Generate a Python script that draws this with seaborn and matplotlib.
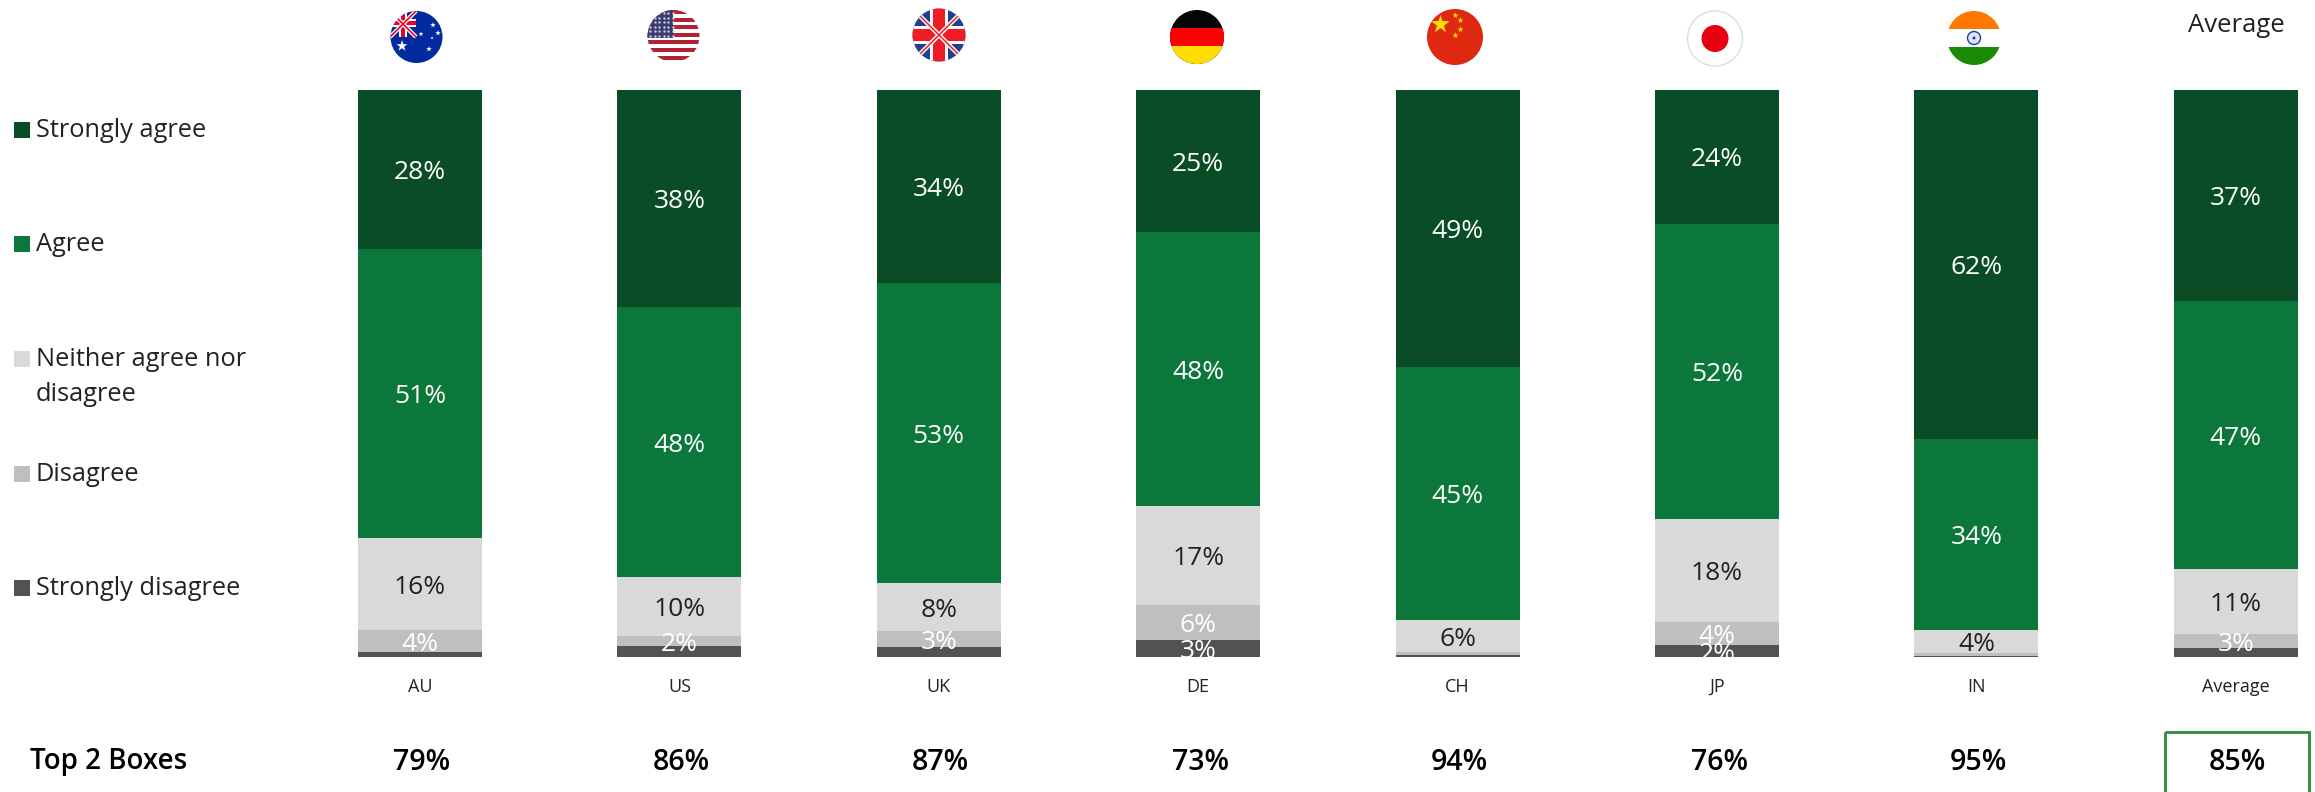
import numpy as np
import pandas as pd
import matplotlib
matplotlib.use("Agg")
import matplotlib.pyplot as plt
from matplotlib.patches import Circle, Rectangle
import seaborn as sns

countries = ["AU", "US", "UK", "DE", "CH", "JP", "IN", "Average"]
strongly_agree = [28, 38.3, 34, 25.1, 48.8, 23.6, 61.6, 37.3]
agree = [51, 47.6, 53, 48.3, 44.6, 52.1, 33.6, 47.2]
neither = [16.2, 10.4, 8.5, 17.4, 5.8, 18.2, 4.1, 11.4]
disagree = [3.9, 1.8, 2.7, 6.2, 0.4, 4, 0.6, 2.6]
strongly_disagree = [0.8, 1.9, 1.8, 3.0, 0.4, 2.1, 0.1, 1.5]
# only DE and JP print a label on the bottom segment
strongly_disagree_labels = ["", "", "", "3%", "", "2%", "", ""]
top2 = ["79%", "86%", "87%", "73%", "94%", "76%", "95%", "85%"]

layer_names = ["Strongly agree", "Agree", "Neither agree nor\ndisagree", "Disagree", "Strongly disagree"]
layer_colors = ["#0A4C26", "#0C773A", "#D9D9D9", "#BFBFBF", "#525252"]
label_colors = ["white", "white", "#222222", "white", "white"]

W, H = 2315, 792
sns.set_theme(style="white")
plt.rcParams["font.family"] = ["Open Sans", "DejaVu Sans"]

df = pd.DataFrame({
    "country": countries,
    "Strongly agree": strongly_agree,
    "Agree": agree,
    "Neither": neither,
    "Disagree": disagree,
    "Strongly disagree": strongly_disagree,
}).set_index("country")
# stacks are 100% even when the rounded numbers are not
df = df.div(df.sum(axis=1), axis=0) * 100

fig = plt.figure(figsize=(W / 100, H / 100), dpi=100)
ax_left, ax_right, ax_top, ax_bottom = 300, 2315, 90, 657
ax = fig.add_axes([ax_left / W, 1 - ax_bottom / H, (ax_right - ax_left) / W, (ax_bottom - ax_top) / H])

# bottom layer first, seaborn stacks through bottom=
base = np.zeros(len(countries))
cols = list(df.columns)
for i in range(len(cols) - 1, -1, -1):
    name = cols[i]
    sns.barplot(x=df.index, y=df[name].values, bottom=base, color=layer_colors[i], saturation=1,
                width=0.478, linewidth=0, ax=ax)
    base = base + df[name].values

# labels on top of every bar, clipped at the axes like the original
for container, i in zip(ax.containers, range(len(cols) - 1, -1, -1)):
    if cols[i] == "Strongly disagree":
        labels = strongly_disagree_labels
    else:
        labels = [f"{v:.0f}%" if v >= 1.5 else "" for v in df[cols[i]].values]
    texts = ax.bar_label(container, labels=labels, label_type="center", color=label_colors[i],
                         fontsize=19, clip_on=True)
    for t in texts:
        t.xyann = (0, -2.2)

spacing = 259.4
first_x = 420
ax.set_xlim((ax_left - first_x) / spacing, (ax_right - first_x) / spacing)
ax.set_ylim(0, 100)
ax.set_xlabel("")
ax.set_ylabel("")
ax.set_yticks([])
ax.tick_params(axis="x", length=0, pad=15, labelsize=13, labelcolor="#222222")
sns.despine(ax=ax, left=True, bottom=True)

# overlay in pixel coordinates for legend, bottom row and flags
ov = fig.add_axes([0, 0, 1, 1], zorder=5)
ov.set_xlim(0, W)
ov.set_ylim(H, 0)
ov.axis("off")
ov.patch.set_alpha(0)

legend_y = [130, 244, 359, 474, 588]
for name, color, y in zip(layer_names, layer_colors, legend_y):
    ov.add_patch(Rectangle((14, y - 8), 16, 16, color=color, lw=0))
    ov.text(36, y - 12, name, fontsize=18.3, color="#222222", va="top", ha="left", linespacing=1.55)

ov.text(30, 762, "Top 2 Boxes", fontsize=20, fontweight="semibold", color="black", va="center")
centers = [first_x + spacing * k for k in range(len(countries))]
for cx, t in zip(centers, top2):
    ov.text(cx + 2, 762, t, fontsize=20.5, fontweight="semibold", color="black", va="center", ha="center")
ov.add_patch(Rectangle((2165, 732), 143.5, 70, fill=False, ec="#2E8B3E", lw=2))
ov.text(2236, 25, "Average", fontsize=18.5, color="#222222", ha="center", va="center")


def flag_disc(cx, cy, r, color):
    disc = Circle((cx, cy), r, fc=color, ec="none")
    ov.add_patch(disc)
    return disc


def clipped_rect(disc, x, y, w, h, color):
    p = Rectangle((x, y), w, h, fc=color, ec="none")
    ov.add_patch(p)
    p.set_clip_path(disc)


def clipped_line(disc, xs, ys, color, lw):
    ln, = ov.plot(xs, ys, color=color, lw=lw, solid_capstyle="butt")
    ln.set_clip_path(disc)


def clipped_stars(disc, xs, ys, color, size, marker="*"):
    s = ov.scatter(xs, ys, s=size, c=color, marker=marker, linewidths=0)
    s.set_clip_path(disc)


# AU
d = flag_disc(416.5, 37, 26, "#012A9E")
clipped_line(d, [390, 416], [11, 37], "white", 3)
clipped_line(d, [416, 390], [11, 37], "white", 3)
clipped_line(d, [390, 416], [11, 37], "#E4002B", 1.2)
clipped_line(d, [416, 390], [11, 37], "#E4002B", 1.2)
clipped_rect(d, 390, 19, 26, 8, "white")
clipped_rect(d, 399, 11, 8, 26, "white")
clipped_rect(d, 390, 21, 26, 4, "#E4002B")
clipped_rect(d, 401, 11, 4, 26, "#E4002B")
clipped_stars(d, [402, 433, 438, 429, 432, 421], [46, 25, 33, 49, 38, 34], "white", [70, 18, 18, 18, 6, 14])

# US
d = flag_disc(673.5, 36, 26, "white")
for k in range(7):
    clipped_rect(d, 646, 10 + k * 7.6, 56, 3.9, "#B22234")
clipped_rect(d, 646, 10, 27, 28, "#3C3B6E")
sx, sy = np.meshgrid(np.arange(650, 673, 4.5), np.arange(13, 37, 4.5))
clipped_stars(d, sx.ravel(), sy.ravel(), "#C8CBE0", 3, marker="o")

# UK
d = flag_disc(939, 35, 26.5, "#23408F")
clipped_line(d, [912, 966], [8, 62], "white", 3.2)
clipped_line(d, [966, 912], [8, 62], "white", 3.2)
clipped_line(d, [912, 966], [8, 62], "#EE1C25", 1.1)
clipped_line(d, [966, 912], [8, 62], "#EE1C25", 1.1)
clipped_rect(d, 912, 26, 54, 18, "white")
clipped_rect(d, 930, 8, 18, 54, "white")
clipped_rect(d, 912, 29, 54, 12, "#EE1C25")
clipped_rect(d, 933, 8, 12, 54, "#EE1C25")

# DE
d = flag_disc(1197, 37, 27, "#050505")
clipped_rect(d, 1170, 28, 54, 18, "#FF0000")
clipped_rect(d, 1170, 46, 54, 18, "#FFDD00")

# CH
d = flag_disc(1455, 37, 28, "#DE2910")
clipped_stars(d, [1440], [24], "#FFDE00", 190)
clipped_stars(d, [1455, 1460, 1460, 1455], [15, 20, 29, 35], "#FFDE00", 22)

# JP
d = Circle((1715, 38.5), 27.5, fc="white", ec="#DDDDDD", lw=1)
ov.add_patch(d)
ov.add_patch(Circle((1715, 38.5), 13.5, fc="#E60012", ec="none"))

# IN
d = flag_disc(1974, 38, 27, "white")
clipped_rect(d, 1947, 10, 54, 19, "#FF7900")
clipped_rect(d, 1947, 47, 54, 19, "#1A8A07")
ov.add_patch(Circle((1974, 38), 6.5, fc="#DDE6F5", ec="#1C3FAA", lw=1))
ov.add_patch(Circle((1974, 38), 1.5, fc="#1C3FAA", ec="none"))

fig.savefig("out.png", dpi=100)
